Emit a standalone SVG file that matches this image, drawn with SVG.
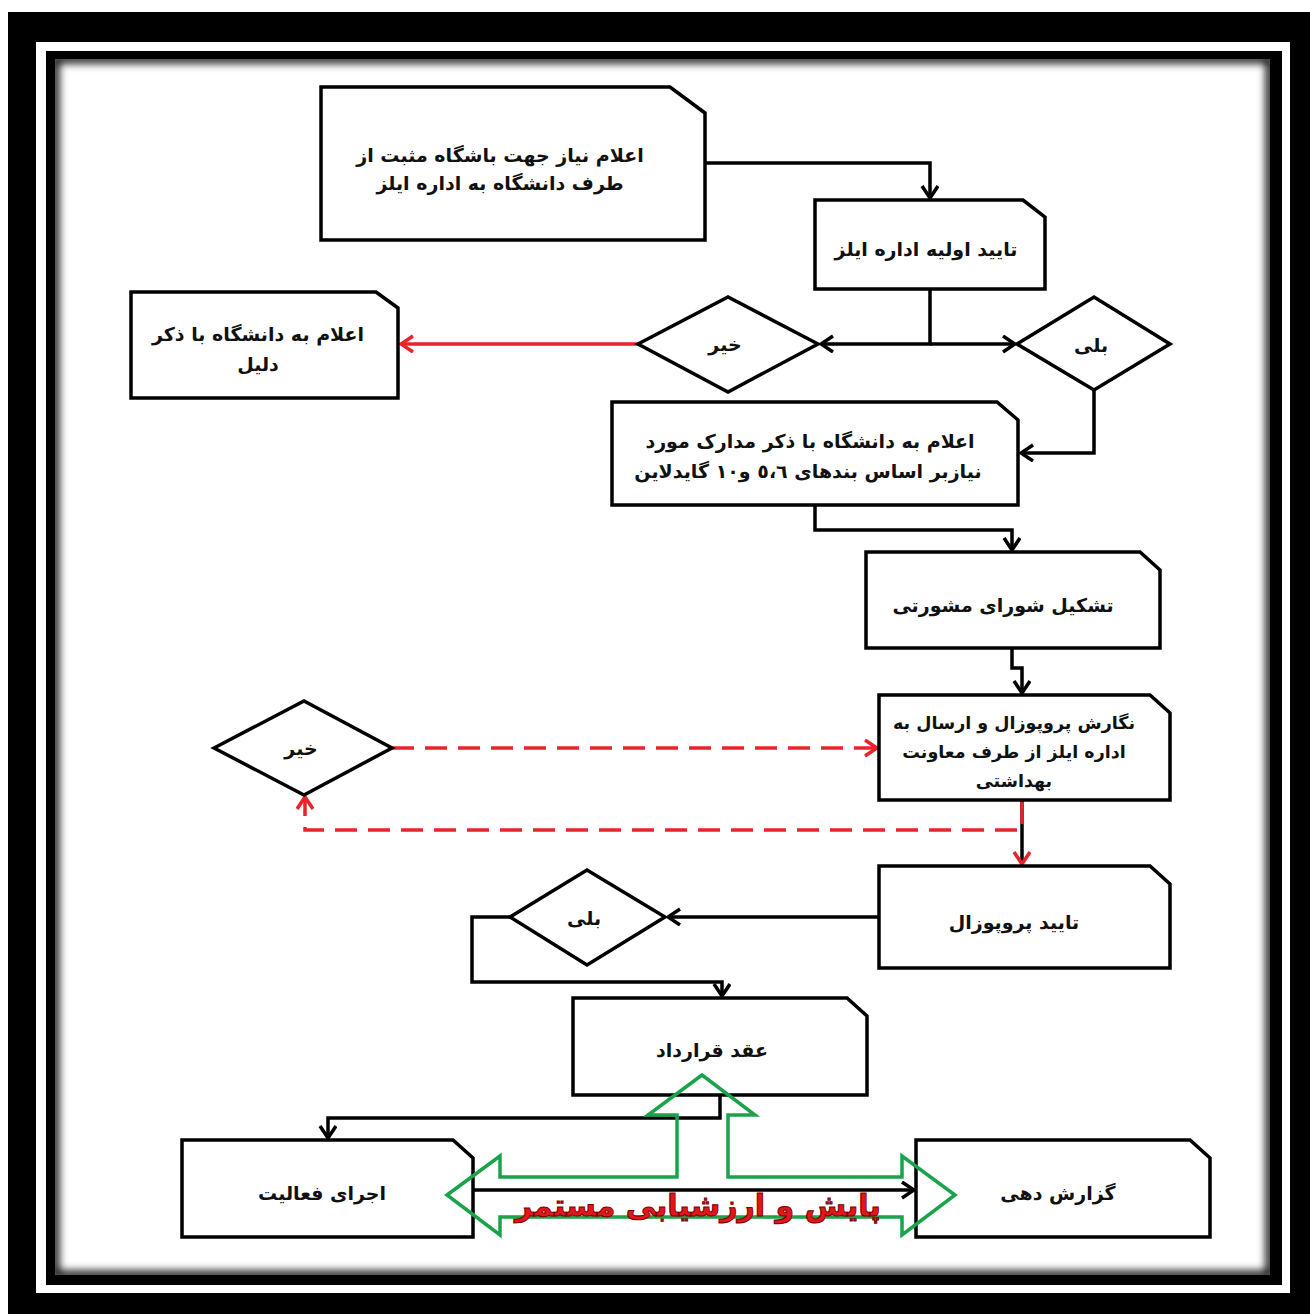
<svg xmlns="http://www.w3.org/2000/svg" width="1310" height="1314" viewBox="0 0 1310 1314">
<defs>
<style>
.box{fill:#fff;stroke:#000;stroke-width:3.5;stroke-linejoin:miter}
.dia{fill:#fff;stroke:#000;stroke-width:3.5}
.t{font-family:"DejaVu Sans",sans-serif;font-size:19px;font-weight:bold;fill:#111;text-anchor:middle;direction:rtl}
.s{font-size:17.5px}
.c{fill:none;stroke:#000;stroke-width:3.5}
.r{fill:none;stroke:#e8232a;stroke-width:3.5}
.rd{fill:none;stroke:#e8232a;stroke-width:3.5;stroke-dasharray:22 11}
</style>
<marker id="ab" markerUnits="userSpaceOnUse" markerWidth="16" markerHeight="20" refX="13" refY="9" orient="auto">
<path d="M1,1 L13,9 L1,17" fill="none" stroke="#000" stroke-width="3.5"/>
</marker>
<marker id="ar" markerUnits="userSpaceOnUse" markerWidth="16" markerHeight="20" refX="13" refY="9" orient="auto">
<path d="M1,1 L13,9 L1,17" fill="none" stroke="#e8232a" stroke-width="3.5"/>
</marker>
<filter id="sh" x="-5%" y="-5%" width="110%" height="110%">
<feGaussianBlur stdDeviation="4"/>
</filter>
<clipPath id="inner"><rect x="55" y="59" width="1215" height="1216"/></clipPath>
</defs>

<g id="frame">
<rect x="0" y="0" width="1310" height="1314" fill="#fff"/>
<rect x="8" y="12" width="1302" height="1302" fill="#000"/>
<rect x="36" y="42" width="1254" height="1251" fill="#fff"/>
<rect x="46" y="51" width="1236" height="1234" fill="#000"/>
<rect x="55" y="59" width="1215" height="1216" fill="#fff"/>
<g clip-path="url(#inner)">
<rect x="55" y="59" width="1215" height="1216" fill="none" stroke="#000" stroke-width="8" filter="url(#sh)"/>
</g>
</g>

<g id="connectors">
<path class="c" d="M705,163 H930 V198" marker-end="url(#ab)"/>
<path class="c" d="M930,289 V344 H821" marker-end="url(#ab)"/>
<path class="c" d="M930,344 H1015" marker-end="url(#ab)"/>
<path class="r" d="M638,344 H401" marker-end="url(#ar)"/>
<path class="c" d="M1094,390 V453 H1021" marker-end="url(#ab)"/>
<path class="c" d="M815,505 V530 H1012 V550" marker-end="url(#ab)"/>
<path class="c" d="M1012,648 V668 H1022 V693" marker-end="url(#ab)"/>
<path class="rd" d="M392,748 H877" marker-end="url(#ar)"/>
<path class="c" d="M1022,800 V864" marker-end="url(#ar)"/>
<path class="rd" d="M1022,802 V830 H305 V797" marker-end="url(#ar)"/>
<path class="c" d="M879,917 H668" marker-end="url(#ab)"/>
<path class="c" d="M510,917 H472 V982 H722 V996" marker-end="url(#ab)"/>
<path class="c" d="M720,1095 V1118 H328 V1138" marker-end="url(#ab)"/>
<path class="c" d="M473,1190 H914" marker-end="url(#ab)"/>
</g>

<g id="n1">
<path class="box" d="M321,87 H670 L705,113 V240 H321 Z"/>
<text class="t" x="500" y="162">اعلام نیاز جهت باشگاه مثبت از</text>
<text class="t" x="500" y="190">طرف دانشگاه به اداره ایلز</text>
</g>
<g id="n2">
<path class="box" d="M815,200 H1023 L1045,217 V289 H815 Z"/>
<text class="t" x="926" y="256">تایید اولیه اداره ایلز</text>
</g>
<g id="n3">
<path class="dia" d="M638,344 L728,297 L818,344 L728,392 Z"/>
<text class="t" x="725" y="351">خیر</text>
</g>
<g id="n4">
<path class="dia" d="M1017,344 L1094,297 L1170,344 L1094,390 Z"/>
<text class="t" x="1091" y="352">بلی</text>
</g>
<g id="n5">
<path class="box" d="M131,292 H376 L398,308 V398 H131 Z"/>
<text class="t" x="258" y="341">اعلام به دانشگاه با ذکر</text>
<text class="t" x="258" y="371">دلیل</text>
</g>
<g id="n6">
<path class="box" d="M612,402 H997 L1018,420 V505 H612 Z"/>
<text class="t" x="810" y="448">اعلام به دانشگاه با ذکر مدارک مورد</text>
<text class="t" x="808" y="478">نیازبر اساس بندهای ٥،٦ و١٠ گایدلاین</text>
</g>
<g id="n7">
<path class="box" d="M866,552 H1140 L1160,570 V648 H866 Z"/>
<text class="t" x="1003" y="612">تشکیل شورای مشورتی</text>
</g>
<g id="n8">
<path class="box" d="M879,695 H1150 L1170,713 V800 H879 Z"/>
<text class="t s" x="1014" y="729">نگارش پروپوزال و ارسال به</text>
<text class="t s" x="1014" y="758">اداره ایلز از طرف معاونت</text>
<text class="t s" x="1014" y="787">بهداشتی</text>
</g>
<g id="n9">
<path class="dia" d="M214,748 L304,701 L392,748 L304,795 Z"/>
<text class="t" x="301" y="755">خیر</text>
</g>
<g id="n10">
<path class="box" d="M879,866 H1150 L1170,884 V968 H879 Z"/>
<text class="t" x="1014" y="929">تایید پروپوزال</text>
</g>
<g id="n11">
<path class="dia" d="M510,917 L587,870 L665,917 L587,965 Z"/>
<text class="t" x="584" y="925">بلی</text>
</g>
<g id="n12">
<path class="box" d="M573,998 H847 L867,1016 V1095 H573 Z"/>
<text class="t" x="712" y="1057">عقد قرارداد</text>
</g>
<g id="n13">
<path class="box" d="M182,1140 H453 L473,1158 V1237 H182 Z"/>
<text class="t" x="322" y="1200">اجرای فعالیت</text>
</g>
<g id="n14">
<path class="box" d="M916,1140 H1190 L1210,1158 V1237 H916 Z"/>
<text class="t" x="1058" y="1200">گزارش دهی</text>
</g>

<g id="monitor">
<path d="M447,1195 L500,1156 L500,1177 L677,1177 L677,1115 L648,1115 L702,1075 L755,1115 L728,1115 L728,1177 L902,1177 L902,1156 L955,1195 L902,1235 L902,1217 L500,1217 L500,1235 Z" fill="none" stroke="#1aa34a" stroke-width="3.5" stroke-linejoin="miter"/>
<text x="698" y="1216" font-family="DejaVu Sans,sans-serif" font-size="30" font-weight="bold" fill="#e3161c" stroke="#7a0000" stroke-width="1" text-anchor="middle" direction="rtl" letter-spacing="3">پایش و ارزشیابی مستمر</text>
</g>
</svg>
